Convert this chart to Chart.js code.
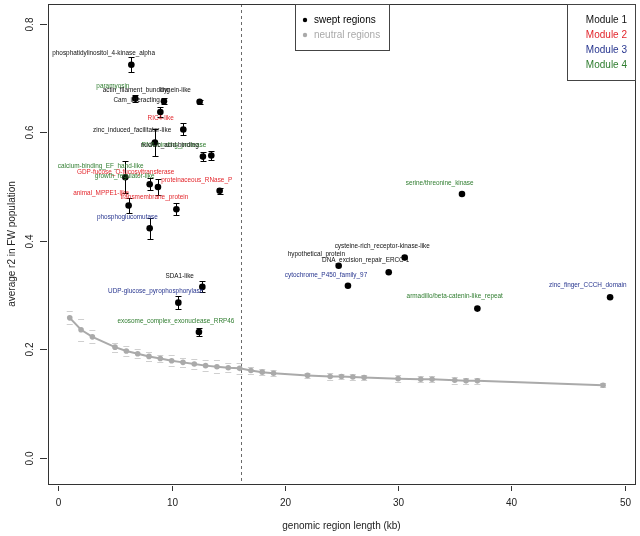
<!DOCTYPE html>
<html>
<head>
<meta charset="utf-8">
<script src="https://cdn.jsdelivr.net/npm/chart.js@4.4.1/dist/chart.umd.min.js"></script>
<style>
  html, body { margin: 0; padding: 0; background: #fff; }
</style>
</head>
<body>
<canvas id="chart" width="640" height="536"></canvas>
<script>
// neutral regions: mean r2 by region length (kb)
const neutralX   = [1, 2, 3, 5, 6, 7, 8, 9, 10, 11, 12, 13, 14, 15, 16, 17, 18, 19, 22, 24, 25, 26, 27, 30, 32, 33, 35, 36, 37, 48.1];
const neutralY   = [0.258, 0.236, 0.223, 0.204, 0.197, 0.192, 0.187, 0.183, 0.179, 0.176, 0.173, 0.170, 0.168, 0.166, 0.165, 0.161, 0.158, 0.156,
                    0.152, 0.150, 0.150, 0.149, 0.148, 0.146, 0.145, 0.145, 0.143, 0.142, 0.142, 0.134];
const neutralErr = [0.012, 0.02, 0.012, 0.008, 0.01, 0.008, 0.009, 0.007, 0.01, 0.008, 0.009, 0.01, 0.012, 0.008, 0.01, 0.006, 0.006, 0.006,
                    0.005, 0.006, 0.005, 0.005, 0.005, 0.006, 0.006, 0.006, 0.006, 0.006, 0.006, 0.004];

// swept regions
const sweptX   = [6.44, 6.79, 9.32, 12.47, 9.0, 11.03, 8.52, 12.76, 13.5, 5.91, 8.06, 8.79, 14.24, 6.2, 10.42, 8.06,
                  12.71, 10.59, 12.41, 35.64, 30.58, 24.75, 29.17, 25.57, 37.0, 48.72];
const sweptY   = [0.724, 0.662, 0.657, 0.656, 0.637, 0.605, 0.581, 0.555, 0.557, 0.517, 0.504, 0.499, 0.492, 0.465, 0.458, 0.423,
                  0.315, 0.286, 0.232, 0.486, 0.369, 0.354, 0.342, 0.317, 0.275, 0.296];
const sweptErr = [0.014, 0.006, 0.006, 0.004, 0.01, 0.011, 0.025, 0.008, 0.008, 0.029, 0.011, 0.014, 0.006, 0.013, 0.011, 0.019,
                  0.010, 0.012, 0.008, 0, 0, 0, 0, 0, 0, 0];

// gene annotations (text anchored at data coordinates) and their module
const geneNames = ['phosphatidylinositol_4-kinase_alpha', 'paramyosin', 'actin_filament_bundling', 'dynein-like', 'Cam_interacting',
  'RIC4-like', 'zinc_induced_facilitator-like', 'RNA-binding_protease', 'nucleic_acid-binding', 'calcium-binding_EF_hand-like',
  'GDP-fucose_O-fucosyltransferase', 'growth_regulator-like', 'proteinaceous_RNase_P', 'animal_MPPE1-like', 'transmembrane_protein',
  'phosphoglucomutase', 'SDA1-like', 'UDP-glucose_pyrophosphorylase', 'exosome_complex_exonuclease_RRP46', 'serine/threonine_kinase',
  'cysteine-rich_receptor-kinase-like', 'hypothetical_protein', 'DNA_excision_repair_ERCC-1', 'cytochrome_P450_family_97',
  'armadillo/beta-catenin-like_repeat', 'zinc_finger_CCCH_domain'];
const geneX = [3.99, 4.81, 6.88, 10.35, 6.91, 9.03, 6.51, 10.2, 9.83, 3.73, 5.94, 5.85, 12.21, 3.77, 8.47, 6.09, 10.71, 8.59, 10.38,
               33.67, 28.6, 22.78, 27.14, 23.63, 35.0, 46.75];
const geneY = [0.745, 0.684, 0.6765, 0.6765, 0.658, 0.625, 0.603, 0.575, 0.575, 0.538, 0.526, 0.518, 0.512, 0.488, 0.480, 0.443,
               0.3355, 0.3065, 0.2525, 0.506, 0.3895, 0.3755, 0.3637, 0.337, 0.297, 0.318];
const geneModule = [1, 4, 1, 1, 1, 2, 1, 4, 1, 4, 2, 4, 2, 2, 2, 3, 1, 3, 4, 4, 1, 1, 1, 3, 4, 3];

const moduleNames = ['Module 1', 'Module 2', 'Module 3', 'Module 4'];
const moduleColors = ['#111111', '#e3262c', '#27358f', '#2f7d2f'];

const xTicks = [0, 10, 20, 30, 40, 50];
const yTicks = [0.0, 0.2, 0.4, 0.6, 0.8];
const cutoffKb = 16.1;

const FONT = '"Liberation Sans", Arial, Helvetica, sans-serif';

const rPlot = {
  id: 'rPlot',
  beforeDatasetsDraw(chart) {
    const { ctx, chartArea: a, scales: { x, y } } = chart;
    ctx.save();
    ctx.lineWidth = 1;
    // dotted cutoff line
    ctx.strokeStyle = '#6a6a6a';
    ctx.setLineDash([3, 3]);
    const cx = Math.round(x.getPixelForValue(cutoffKb)) + 0.5;
    ctx.beginPath(); ctx.moveTo(cx, a.top); ctx.lineTo(cx, a.bottom); ctx.stroke();
    ctx.setLineDash([]);
    // neutral error caps
    ctx.strokeStyle = '#cfcfcf';
    neutralX.forEach((v, i) => {
      const px = x.getPixelForValue(v);
      [neutralY[i] - neutralErr[i], neutralY[i] + neutralErr[i]].forEach(e => {
        const py = Math.round(y.getPixelForValue(e)) + 0.5;
        ctx.beginPath(); ctx.moveTo(px - 3, py); ctx.lineTo(px + 3, py); ctx.stroke();
      });
    });
    // swept error bars
    ctx.strokeStyle = '#000';
    sweptX.forEach((v, i) => {
      if (!sweptErr[i]) return;
      const px = Math.round(x.getPixelForValue(v)) + 0.5;
      const y1 = Math.round(y.getPixelForValue(sweptY[i] - sweptErr[i])) + 0.5;
      const y2 = Math.round(y.getPixelForValue(sweptY[i] + sweptErr[i])) + 0.5;
      ctx.beginPath();
      ctx.moveTo(px, y1); ctx.lineTo(px, y2);
      ctx.moveTo(px - 3, y1); ctx.lineTo(px + 3, y1);
      ctx.moveTo(px - 3, y2); ctx.lineTo(px + 3, y2);
      ctx.stroke();
    });
    ctx.restore();
  },
  afterDatasetsDraw(chart) {
    const { ctx, scales: { x, y } } = chart;
    ctx.save();
    ctx.font = '6.4px ' + FONT;
    ctx.textAlign = 'center';
    ctx.textBaseline = 'middle';
    geneNames.forEach((t, i) => {
      ctx.fillStyle = moduleColors[geneModule[i] - 1];
      ctx.fillText(t, x.getPixelForValue(geneX[i]), y.getPixelForValue(geneY[i]));
    });
    ctx.restore();
  },
  afterDraw(chart) {
    const { ctx, chartArea: a, scales: { x, y } } = chart;
    ctx.save();
    ctx.lineWidth = 1;
    ctx.strokeStyle = '#333';
    ctx.strokeRect(Math.round(a.left) + 0.5, Math.round(a.top) + 0.5, Math.round(a.right - a.left), Math.round(a.bottom - a.top));
    ctx.fillStyle = '#222';
    ctx.font = '10px ' + FONT;
    // x axis
    ctx.textAlign = 'center';
    ctx.textBaseline = 'middle';
    xTicks.forEach(v => {
      const px = Math.round(x.getPixelForValue(v)) + 0.5;
      ctx.beginPath(); ctx.moveTo(px, a.bottom + 2); ctx.lineTo(px, a.bottom + 7); ctx.stroke();
      ctx.fillText(String(v), px, a.bottom + 19);
    });
    ctx.fillText('genomic region length (kb)', (a.left + a.right) / 2, a.bottom + 42);
    // y axis, labels parallel to axis as in R
    yTicks.forEach(v => {
      const py = Math.round(y.getPixelForValue(v)) + 0.5;
      ctx.beginPath(); ctx.moveTo(a.left - 8, py); ctx.lineTo(a.left - 1, py); ctx.stroke();
      ctx.save();
      ctx.translate(a.left - 18, py);
      ctx.rotate(-Math.PI / 2);
      ctx.fillText(v.toFixed(1), 0, 0);
      ctx.restore();
    });
    ctx.save();
    ctx.translate(12, (a.top + a.bottom) / 2);
    ctx.rotate(-Math.PI / 2);
    ctx.fillText('average r2 in FW population', 0, 0);
    ctx.restore();

    // legend: region type
    ctx.strokeStyle = '#444';
    ctx.strokeRect(295.5, a.top + 0.5, 94, 46);
    ctx.textAlign = 'left';
    [['swept regions', '#000'], ['neutral regions', '#aaaaaa']].forEach((e, i) => {
      const ly = a.top + 16 + i * 15;
      ctx.fillStyle = e[1];
      ctx.beginPath(); ctx.arc(305, ly, 2.2, 0, Math.PI * 2); ctx.fill();
      ctx.fillText(e[0], 314, ly);
    });
    // legend: modules
    ctx.strokeRect(567.5, a.top + 0.5, a.right - 567, 76);
    ctx.textAlign = 'right';
    moduleNames.forEach((m, i) => {
      ctx.fillStyle = moduleColors[i];
      ctx.fillText(m, 627, a.top + 16 + i * 15);
    });
    ctx.restore();
  }
};

new Chart(document.getElementById('chart'), {
  type: 'scatter',
  data: {
    datasets: [
      {
        label: 'neutral regions',
        data: neutralX.map((v, i) => ({ x: v, y: neutralY[i] })),
        showLine: true,
        borderColor: '#aaaaaa',
        backgroundColor: '#aaaaaa',
        borderWidth: 2,
        pointRadius: 2.8,
        pointBorderWidth: 0
      },
      {
        label: 'swept regions',
        data: sweptX.map((v, i) => ({ x: v, y: sweptY[i] })),
        backgroundColor: '#000',
        borderColor: '#000',
        pointRadius: 3.3,
        pointBorderWidth: 0
      }
    ]
  },
  options: {
    responsive: false,
    animation: false,
    layout: { padding: { left: 0, right: 5, top: 3, bottom: 0 } },
    plugins: { legend: { display: false }, tooltip: { enabled: false } },
    scales: {
      x: {
        type: 'linear', min: -0.92, max: 50.92,
        grid: { display: false }, border: { display: false }, ticks: { display: false },
        afterFit: s => { s.height = 52; }
      },
      y: {
        type: 'linear', min: -0.048, max: 0.836,
        grid: { display: false }, border: { display: false }, ticks: { display: false },
        afterFit: s => { s.width = 48; }
      }
    }
  },
  plugins: [rPlot]
});
</script>
</body>
</html>
